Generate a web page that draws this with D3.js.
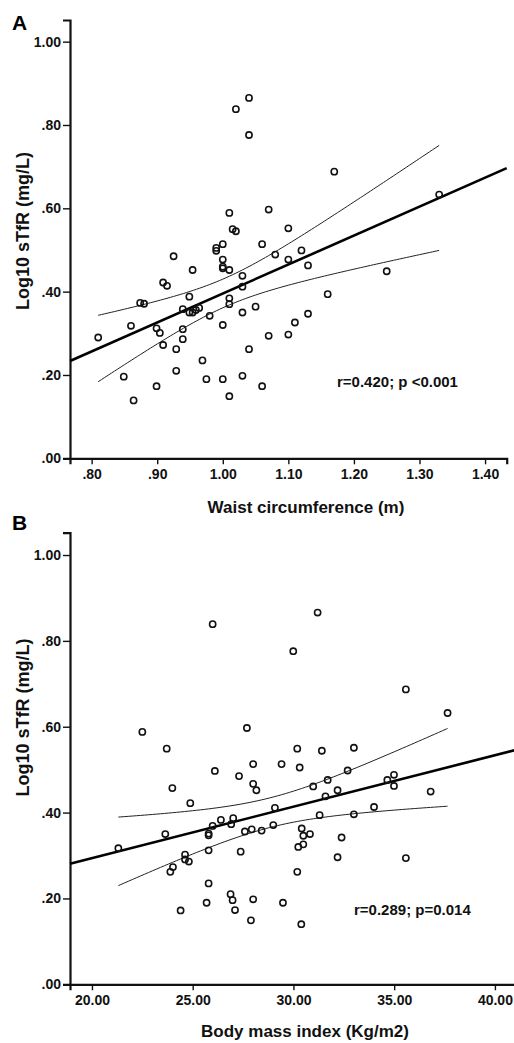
<!DOCTYPE html>
<html>
<head>
<meta charset="utf-8">
<script src="https://cdn.jsdelivr.net/npm/d3@7"></script>
<style>
  body { margin: 0; background: #fff; }
  svg { display: block; font-family: 'Liberation Sans', Arial, sans-serif; }
</style>
</head>
<body>
<svg id="chart" width="514" height="1043"></svg>
<script>
// Panel A: waist circumference (m) vs log10 sTfR
const waist = [1.040, 1.020, 1.040, 1.170, 1.330, 1.010, 1.070, 1.015, 1.020, 1.100,
  1.000, 0.990, 0.990, 1.060, 1.120, 1.080, 0.925, 1.000, 1.100, 1.000,
  1.000, 1.010, 0.954, 1.130, 1.250, 1.030, 1.030, 0.909, 0.915, 0.874,
  0.880, 0.949, 1.160, 1.010, 1.010, 0.939, 0.949, 0.954, 0.959, 0.964,
  1.050, 1.030, 1.130, 0.980, 0.860, 1.000, 1.110, 0.899, 0.904, 0.939,
  0.810, 1.070, 1.100, 0.939, 0.909, 0.929, 1.040, 0.969, 0.929, 0.849,
  0.975, 1.000, 1.030, 0.899, 1.060, 0.864, 1.010]
const sTfrA = [0.865, 0.838, 0.776, 0.688, 0.633, 0.589, 0.597, 0.550, 0.545, 0.552,
  0.514, 0.505, 0.498, 0.514, 0.499, 0.489, 0.485, 0.477, 0.477, 0.460,
  0.456, 0.452, 0.452, 0.463, 0.449, 0.438, 0.412, 0.422, 0.414, 0.373,
  0.371, 0.388, 0.394, 0.384, 0.370, 0.358, 0.350, 0.350, 0.356, 0.361,
  0.364, 0.350, 0.347, 0.342, 0.318, 0.320, 0.326, 0.312, 0.301, 0.310,
  0.290, 0.294, 0.297, 0.286, 0.272, 0.262, 0.262, 0.235, 0.210, 0.196,
  0.190, 0.190, 0.198, 0.173, 0.173, 0.139, 0.149]

// Panel B: body mass index vs log10 sTfR
const bmi = [25.99, 31.20, 29.99, 35.58, 37.65, 22.50, 27.69, 23.71, 30.19, 31.41,
  33.00, 26.10, 28.00, 29.41, 30.31, 27.30, 32.69, 34.99, 31.70, 34.66,
  34.99, 28.00, 28.16, 23.99, 30.98, 32.19, 36.81, 31.59, 24.88, 29.08,
  34.00, 31.30, 33.00, 26.40, 27.01, 26.91, 25.99, 29.00, 23.64, 25.79,
  25.79, 27.59, 27.93, 28.42, 30.41, 30.49, 30.82, 32.39, 30.49, 30.24,
  21.31, 25.79, 27.38, 24.62, 24.62, 24.81, 32.19, 35.58, 24.02, 23.89,
  30.19, 25.79, 26.88, 26.98, 28.00, 25.69, 29.48, 27.10, 24.40, 27.89,
  30.39]
const sTfrB = [0.839, 0.866, 0.776, 0.687, 0.632, 0.588, 0.597, 0.549, 0.549, 0.544,
  0.551, 0.497, 0.513, 0.513, 0.505, 0.485, 0.498, 0.488, 0.476, 0.476,
  0.462, 0.467, 0.452, 0.457, 0.461, 0.452, 0.449, 0.438, 0.422, 0.411,
  0.413, 0.394, 0.396, 0.383, 0.387, 0.373, 0.369, 0.371, 0.350, 0.351,
  0.347, 0.356, 0.361, 0.358, 0.363, 0.346, 0.350, 0.342, 0.326, 0.320,
  0.317, 0.312, 0.309, 0.302, 0.291, 0.286, 0.296, 0.294, 0.273, 0.262,
  0.262, 0.235, 0.210, 0.196, 0.198, 0.190, 0.190, 0.173, 0.172, 0.149,
  0.140]

const yTicks = [0, 0.2, 0.4, 0.6, 0.8, 1.0]
const waistTicks = [0.8, 0.9, 1.0, 1.1, 1.2, 1.3, 1.4]
const bmiTicks = [20, 25, 30, 35, 40]

const T_CRIT = 1.996 // 95% two-sided, df ~ 65-70

const panels = [
  {
    letter: 'A', xs: waist, ys: sTfrA, xTicks: waistTicks,
    xDomain: [0.767, 1.433], xRange: [70, 506.7], yRange: [458.3, 20],
    xTitle: 'Waist circumference (m)', xTitleAt: [306, 513],
    yTitleAt: [29, 231], letterAt: [12, 30],
    note: 'r=0.420; p <0.001', noteAt: [337, 386.5],
  },
  {
    letter: 'B', xs: bmi, ys: sTfrB, xTicks: bmiTicks,
    xDomain: [18.91, 41.2], xRange: [70, 519.1], yRange: [984.3, 532.7],
    xTitle: 'Body mass index (Kg/m2)', xTitleAt: [305, 1037],
    yTitleAt: [29, 717.5], letterAt: [12, 530],
    note: 'r=0.289; p=0.014', noteAt: [354, 914.5],
  },
]

const svg = d3.select('#chart')

const fmt = v => d3.format('.2f')(v).replace(/^0\./, '.')

function regression(xs, ys) {
  const n = xs.length
  const mx = d3.mean(xs)
  const my = d3.mean(ys)
  const sxx = d3.sum(xs, x => (x - mx) ** 2)
  const sxy = d3.sum(xs, (x, i) => (x - mx) * (ys[i] - my))
  const slope = sxy / sxx
  const icpt = my - slope * mx
  const sse = d3.sum(xs, (x, i) => (ys[i] - (icpt + slope * x)) ** 2)
  const s = Math.sqrt(sse / (n - 2))
  const predict = x => icpt + slope * x
  const half = x => T_CRIT * s * Math.sqrt(1 / n + (x - mx) ** 2 / sxx)
  return { predict, half }
}

function drawPanel(p) {
  const x = d3.scaleLinear().domain(p.xDomain).range(p.xRange)
  const y = d3.scaleLinear().domain([0, 1.052]).range(p.yRange)
  const g = svg.append('g')

  // Axes

  const xAxis = g.append('g')
    .attr('transform', `translate(0,${p.yRange[0]})`)
    .call(d3.axisBottom(x).tickValues(p.xTicks).tickFormat(fmt)
      .tickSizeOuter(0).tickSize(6).tickPadding(5))
  const yAxis = g.append('g')
    .attr('transform', `translate(${p.xRange[0]},0)`)
    .call(d3.axisLeft(y).tickValues(yTicks).tickFormat(fmt)
      .tickSizeOuter(0).tickSize(7).tickPadding(2))

  for (const ax of [xAxis, yAxis]) {
    ax.select('.domain').attr('stroke', '#111').attr('stroke-width', 2.2)
    ax.selectAll('.tick line').attr('stroke', '#111').attr('stroke-width', 1.4)
    ax.selectAll('.tick text')
      .attr('fill', '#111')
      .style('font-size', '14px')
      .style('font-weight', 'bold')
      .style('font-family', "'Liberation Sans', Arial, sans-serif")
  }

  // Fit line & confidence band

  const fit = regression(p.xs, p.ys)
  const [lo, hi] = d3.extent(p.xs)
  const grid = x.copy().domain([lo, hi]).ticks(80)
  grid.unshift(lo)
  grid.push(hi)

  const curve = fn => d3.line().x(d => x(d)).y(d => y(fn(d)))

  g.append('path')
    .datum(grid)
    .attr('fill', 'none')
    .attr('stroke', '#222')
    .attr('stroke-width', 1)
    .attr('d', curve(d => fit.predict(d) + fit.half(d)))

  g.append('path')
    .datum(grid)
    .attr('fill', 'none')
    .attr('stroke', '#222')
    .attr('stroke-width', 1)
    .attr('d', curve(d => fit.predict(d) - fit.half(d)))

  g.append('path')
    .datum(p.xDomain)
    .attr('fill', 'none')
    .attr('stroke', '#000')
    .attr('stroke-width', 2.6)
    .attr('d', curve(fit.predict))

  // Points

  g.append('g')
    .selectAll('circle')
    .data(p.xs.map((v, i) => [v, p.ys[i]]))
    .join('circle')
    .attr('cx', d => x(d[0]))
    .attr('cy', d => y(d[1]))
    .attr('r', 3.1)
    .attr('fill', 'none')
    .attr('stroke', '#111')
    .attr('stroke-width', 1.6)

  // Texts

  g.append('text')
    .attr('x', p.noteAt[0]).attr('y', p.noteAt[1])
    .style('font-size', '15px').style('font-weight', 'bold').attr('fill', '#111')
    .text(p.note)

  g.append('text')
    .attr('x', p.xTitleAt[0]).attr('y', p.xTitleAt[1])
    .attr('text-anchor', 'middle')
    .style('font-size', '17px').style('font-weight', 'bold').attr('fill', '#111')
    .text(p.xTitle)

  g.append('text')
    .attr('transform', `translate(${p.yTitleAt[0]},${p.yTitleAt[1]}) rotate(-90)`)
    .attr('text-anchor', 'middle')
    .style('font-size', '18px').style('font-weight', 'bold').attr('fill', '#111')
    .text('Log10 sTfR (mg/L)')

  g.append('text')
    .attr('x', p.letterAt[0]).attr('y', p.letterAt[1])
    .style('font-size', '21px').style('font-weight', 'bold').attr('fill', '#000')
    .text(p.letter)
}

panels.forEach(drawPanel)
</script>
</body>
</html>
